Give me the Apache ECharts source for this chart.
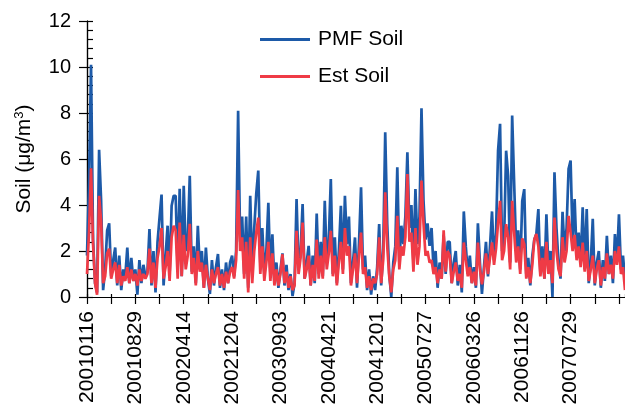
<!DOCTYPE html>
<html><head><meta charset="utf-8">
<script src="https://cdn.jsdelivr.net/npm/echarts@6/dist/echarts.min.js"></script>
<style>html,body{margin:0;padding:0;background:#fff}#c{width:625px;height:408px}</style>
</head><body><div id="c"></div>
<script>
const tickLabels = ['20010116','20010829','20020414','20021204','20030903','20040421','20041201','20050727','20060326','20061126','20070729'];
const labelStep = 24;
const pmfSoil = [
1.8, 5.0, 10.1, 2.5, 0.6, 0.2, 6.4, 4.2, 0.3, 1.2,
2.9, 3.2, 0.9, 1.6, 2.15, 0.5, 1.8, 0.3, 1.2, 0.9,
2.15, 0.6, 1.7, 0.7, 1.2, 0.1, 1.6, 0.6, 1.4, 0.9,
1.1, 2.95, 0.5, 2.0, 0.2, 2.4, 3.45, 4.45, 0.5, 1.8,
3.1, 1.0, 3.97, 4.4, 4.4, 1.2, 4.7, 0.9, 4.84, 2.0,
2.5, 5.27, 1.1, 2.2, 0.6, 3.1, 1.2, 2.0, 0.4, 2.15,
0.8, 0.13, 1.6, 0.5, 1.3, 1.87, 0.4, 1.2, 0.3, 1.5,
0.6, 1.5, 1.8, 0.9, 2.0, 8.1, 2.4, 3.5, 1.0, 3.5,
0.4, 4.4, 1.2, 3.0, 4.5, 5.5, 1.5, 3.0, 1.0, 2.0,
4.1, 1.0, 2.73, 0.6, 1.5, 0.4, 1.2, 1.9, 0.5, 1.4,
0.3, 1.0, 0.04, 0.6, 4.26, 1.2, 2.0, 4.04, 0.8, 1.5,
2.22, 0.5, 1.8, 0.6, 3.63, 1.0, 2.4, 0.9, 4.18, 1.5,
2.5, 5.13, 1.0, 2.6, 0.6, 2.0, 3.97, 1.2, 4.4, 2.3,
3.5, 0.6, 1.5, 2.59, 0.4, 2.37, 4.77, 1.2, 1.8, 0.3,
1.2, 0.1, 0.9, 0.3, 1.3, 3.17, 0.5, 2.0, 7.16, 3.17,
1.0, 0.0, 1.5, 2.2, 5.64, 1.5, 3.1, 2.3, 3.5, 6.29,
3.0, 4.0, 1.5, 4.69, 2.3, 3.5, 8.2, 4.2, 2.5, 3.2,
2.22, 3.0, 1.2, 2.0, 0.4, 1.5, 0.8, 2.7, 1.0, 2.4,
2.4, 0.6, 1.5, 2.0, 0.5, 1.4, 0.2, 3.72, 2.2, 1.0,
1.8, 0.6, 1.3, 0.4, 3.2, 1.5, 0.13, 1.3, 2.4, 0.9,
2.2, 3.72, 1.6, 2.8, 6.36, 7.53, 2.0, 2.5, 6.36, 5.27,
1.5, 7.89, 4.91, 2.0, 2.9, 1.2, 4.18, 4.69, 1.0, 1.7,
0.5, 1.8, 2.5, 2.74, 3.82, 1.0, 2.2, 0.8, 3.6, 1.2,
2.0, 0.0, 5.42, 3.0, 1.5, 0.8, 3.7, 2.0, 3.0, 5.57,
5.93, 2.5, 4.26, 1.8, 2.8, 1.5, 3.9, 1.2, 3.82, 0.6,
1.5, 3.4, 0.5, 1.5, 2.0, 0.4, 1.6, 0.7, 2.66, 1.0,
1.8, 0.6, 2.74, 1.6, 3.6, 1.2, 1.8, 0.8
];
const estSoil = [
1.0, 2.8, 5.6, 2.3, 0.6, 0.1, 4.4, 3.3, 0.6, 0.9,
1.9, 2.1, 0.8, 1.2, 1.5, 0.6, 1.4, 0.5, 0.9, 0.7,
1.3, 0.6, 1.2, 0.7, 1.0, 0.5, 1.2, 0.7, 1.0, 0.8,
1.0, 2.1, 0.6, 1.5, 0.4, 1.7, 2.2, 3.0, 0.8, 1.3,
2.0, 0.7, 2.6, 3.1, 2.9, 0.8, 3.24, 0.9, 2.7, 1.2,
1.8, 3.18, 1.0, 1.7, 0.5, 2.0, 1.1, 1.5, 0.4, 1.4,
0.8, 0.3, 1.2, 0.6, 1.0, 1.3, 0.5, 1.0, 0.4, 1.1,
0.6, 1.1, 1.3, 0.8, 1.6, 4.65, 2.0, 2.6, 0.8, 2.4,
0.2, 2.6, 0.6, 2.0, 2.8, 3.45, 1.0, 2.2, 0.7, 1.5,
2.4, 0.7, 1.9, 0.5, 1.2, 0.5, 1.0, 1.86, 0.6, 1.1,
0.4, 0.9, 0.3, 0.5, 2.88, 1.0, 1.7, 3.24, 0.8, 1.2,
1.8, 0.5, 1.4, 0.7, 2.5, 0.8, 1.8, 0.8, 2.6, 1.2,
1.9, 2.88, 0.9, 1.8, 0.5, 1.5, 2.4, 1.0, 3.0, 1.8,
2.2, 0.5, 1.2, 1.9, 0.6, 1.8, 2.8, 1.0, 1.3, 0.4,
0.9, 0.3, 0.8, 0.6, 1.0, 2.6, 0.6, 1.6, 4.55, 2.2,
0.9, 0.2, 1.2, 1.6, 3.53, 1.2, 2.2, 1.8, 2.6, 5.35,
2.4, 2.8, 1.1, 3.0, 1.4, 2.2, 5.06, 3.2, 1.8, 2.0,
1.5, 1.6, 1.0, 1.3, 0.6, 1.2, 0.8, 2.9, 1.1, 2.0,
1.8, 0.6, 1.1, 1.5, 0.7, 1.0, 0.4, 2.37, 1.6, 0.9,
1.3, 0.6, 1.1, 0.5, 2.37, 1.2, 0.55, 1.1, 1.9, 1.0,
1.7, 2.37, 1.4, 2.1, 3.2, 4.18, 1.6, 2.0, 3.17, 2.6,
1.2, 4.18, 2.8, 1.5, 2.2, 1.0, 2.55, 2.3, 0.8, 1.3,
0.6, 1.4, 2.5, 2.74, 2.2, 0.9, 1.7, 0.8, 2.4, 1.0,
1.6, 0.6, 3.45, 2.0, 1.2, 0.9, 2.6, 1.5, 2.0, 3.53,
2.8, 2.0, 2.7, 1.6, 2.2, 1.3, 2.37, 1.1, 2.0, 0.7,
1.2, 1.8, 0.6, 1.2, 1.6, 0.5, 1.3, 0.8, 1.9, 1.0,
1.4, 0.8, 2.0, 1.4, 2.2, 1.0, 1.3, 0.3
];
const FONT = 'Liberation Sans';
const chart = echarts.init(document.getElementById('c'), null, {renderer: 'canvas'});
const toPairs = arr => arr.map((v, i) => [i, v]);
const xMax = pmfSoil.length - 1;
const xBase = {
  type: 'value', min: 0, max: xMax, interval: labelStep / 2,
  splitLine: {show: false},
  axisLine: {show: true, onZero: false, lineStyle: {color: '#000', width: 1.2}}
};
const yBase = {
  type: 'value', min: 0, max: 12, interval: 2,
  splitLine: {show: false},
  axisLine: {show: true, lineStyle: {color: '#000', width: 1.2}}
};
chart.setOption({
  animation: false,
  backgroundColor: '#fff',
  grid: {left: 87, right: 0, top: 21, bottom: 111, containLabel: false},
  legend: {
    orient: 'vertical', left: 255, top: 24, itemGap: 16,
    itemWidth: 50, itemHeight: 14,
    textStyle: {fontFamily: FONT, fontSize: 21, color: '#000', padding: [0, 0, 0, 3]},
    data: [{name: 'PMF Soil', icon: 'path://M0,0 L50,0 L50,3 L0,3 Z', itemStyle: {color: '#1d5aa8'}},
           {name: 'Est Soil', icon: 'path://M0,0 L50,0 L50,3 L0,3 Z', itemStyle: {color: '#ef3b46'}}]
  },
  xAxis: [
    Object.assign({}, xBase, {
      position: 'bottom',
      axisTick: {show: true, length: 7, lineStyle: {color: '#000', width: 1.2}},
      axisLabel: {
        rotate: 90, margin: 14, fontFamily: FONT, fontSize: 21, color: '#000',
        showMaxLabel: false,
        formatter: v => (v % labelStep === 0 && tickLabels[v / labelStep]) ? tickLabels[v / labelStep] : ''
      }
    }),
    Object.assign({}, xBase, {
      position: 'bottom',
      axisTick: {show: true, inside: true, length: 3, lineStyle: {color: '#000', width: 1.2}},
      axisLabel: {show: false}
    })
  ],
  yAxis: [
    Object.assign({}, yBase, {
      position: 'left',
      name: 'Soil (μg/m{sup|3})',
      nameLocation: 'middle', nameGap: 52, nameRotate: 90,
      nameTextStyle: {fontFamily: FONT, fontSize: 21, color: '#000',
        rich: {sup: {fontFamily: FONT, fontSize: 13, color: '#000', verticalAlign: 'top', padding: [0, 0, 9, 0]}}},
      axisTick: {show: true, length: 8, lineStyle: {color: '#000', width: 1.2}},
      axisLabel: {margin: 16, fontFamily: FONT, fontSize: 20, color: '#000'}
    }),
    Object.assign({}, yBase, {
      position: 'left',
      axisTick: {show: true, inside: true, length: 6, lineStyle: {color: '#000', width: 1.2}},
      minorTick: {show: true, splitNumber: 5, length: 6, lineStyle: {color: '#000', width: 1.2}},
      axisLabel: {show: false}
    })
  ],
  series: [
    {name: 'PMF Soil', type: 'line', xAxisIndex: 0, yAxisIndex: 0, data: toPairs(pmfSoil),
     symbol: 'none', lineStyle: {color: '#1d5aa8', width: 2.7}, itemStyle: {color: '#1d5aa8'}, z: 2},
    {name: 'Est Soil', type: 'line', xAxisIndex: 0, yAxisIndex: 0, data: toPairs(estSoil),
     symbol: 'none', lineStyle: {color: '#ef3b46', width: 2.7}, itemStyle: {color: '#ef3b46'}, z: 3}
  ]
});
</script></body></html>
